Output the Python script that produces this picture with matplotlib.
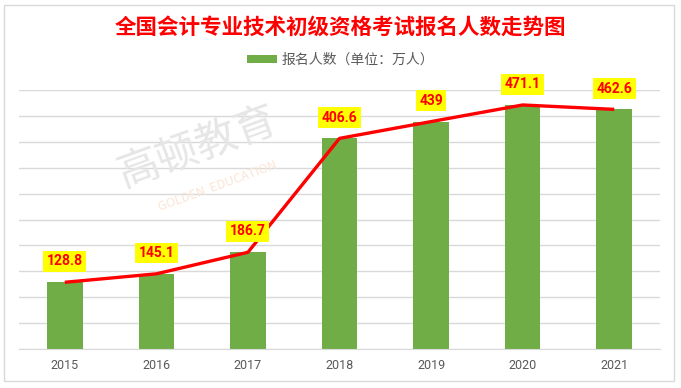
import numpy as np
import matplotlib.pyplot as plt
from matplotlib.patches import Rectangle

plt.rcParams['font.family'] = ['Noto Sans CJK SC', 'DejaVu Sans']

years = ['2015', '2016', '2017', '2018', '2019', '2020', '2021']
counts = [128.8, 145.1, 186.7, 406.6, 439, 471.1, 462.6]
labels = ['128.8', '145.1', '186.7', '406.6', '439', '471.1', '462.6']

fig = plt.figure(figsize=(6.81, 3.88), dpi=100)
ax = fig.add_axes([19/681, 1-349/388, 641/681, (349-90)/388])

x = np.arange(len(years))
ax.bar(x, counts, width=0.39, color='#70AD47', zorder=2, label='报名人数（单位：万人）')
ax.plot(x, counts, color='#FF0000', lw=2.4, zorder=3, solid_capstyle='butt')

for xi, v, s in zip(x, counts, labels):
    ax.annotate(s, (xi, v), xytext=(0, 15), textcoords='offset points',
                ha='center', va='center', fontsize=10, fontweight='bold',
                color='#FF0000', family=['Roboto', 'DejaVu Sans'], zorder=5,
                bbox=dict(boxstyle='square,pad=0.25', fc='#FFFF00', ec='none'))

ax.set_xlim(-0.5, len(years) - 0.5)
ax.set_ylim(0, 500)
ax.set_yticks(np.arange(0, 501, 50))
ax.set_yticklabels([])
ax.tick_params(axis='y', length=0)
ax.grid(axis='y', color='#D9D9D9', lw=1, zorder=0)
ax.set_xticks(x)
ax.set_xticklabels(years, fontsize=9, color='#595959', family=['Roboto', 'DejaVu Sans'])
ax.tick_params(axis='x', length=0, pad=7)
for sp in ['top', 'right', 'left']:
    ax.spines[sp].set_visible(False)
ax.spines['bottom'].set_color('#D9D9D9')

# watermark
fig.text(0.29, 0.62, '高顿教育', fontsize=30, color='#E6E6E6', rotation=20,
         ha='center', va='center', zorder=0)
fig.text(0.32, 0.52, 'GOLDEN  EDUCATION', fontsize=9, color='#FBE5D6', rotation=20,
         ha='center', va='center', zorder=0)

fig.text(0.5, 1-27/388, '全国会计专业技术初级资格考试报名人数走势图', fontsize=15.5,
         fontweight='bold', color='#FF0000', ha='center', va='center')
fig.legend(loc='center', bbox_to_anchor=(0.5, 1-60/388), frameon=False,
           fontsize=10, labelcolor='#595959', handlelength=2.2, handleheight=0.5,
           handletextpad=0.3)

fig.patches.append(Rectangle((4/681, 1-381/388), 670/681, 376/388, transform=fig.transFigure,
                             fill=False, ec='#D9D9D9', lw=1))

fig.savefig('out.png', dpi=100)
